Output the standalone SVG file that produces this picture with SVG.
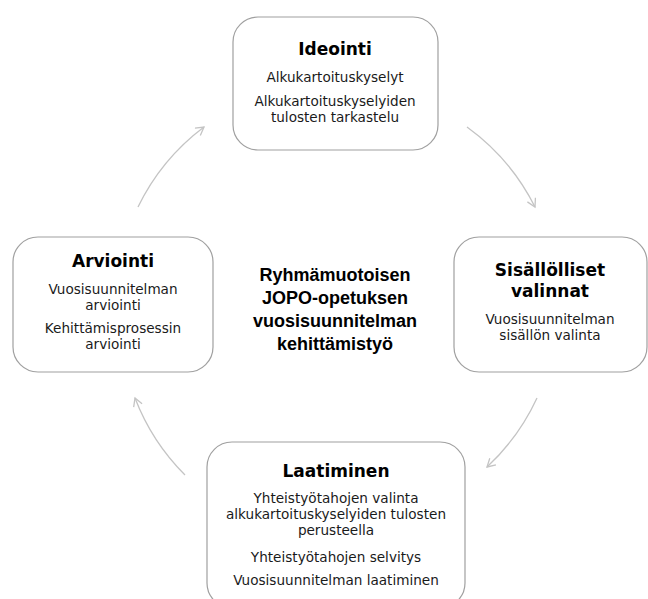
<svg xmlns="http://www.w3.org/2000/svg" width="648" height="599" viewBox="0 0 648 599">
<style>
.box{fill:#ffffff;stroke:#a0a0a0;stroke-width:1.2}
.title{font-family:"DejaVu Sans",Verdana,sans-serif;font-weight:bold;font-size:17px;fill:#000;text-anchor:middle}
.body{font-family:"DejaVu Sans",Verdana,sans-serif;font-size:13.6px;fill:#1a1a1a;text-anchor:middle}
.center{font-family:"Liberation Sans",Arial,sans-serif;font-weight:bold;font-size:18px;fill:#000;text-anchor:middle}
.arc{fill:none;stroke:#c4c4c4;stroke-width:1.3}
</style>
<defs>
<marker id="ah" markerWidth="12" markerHeight="12" refX="9" refY="5" orient="auto" markerUnits="userSpaceOnUse">
<path d="M1,0.5 L9,5 L1,9.5" fill="none" stroke="#c4c4c4" stroke-width="1.3"/>
</marker>
</defs>
<rect width="648" height="599" fill="#ffffff"/>
<g id="connectors">
<path class="arc" d="M467,127 A221,221 0 0 1 535,207" marker-end="url(#ah)"/>
<path class="arc" d="M537,398 A221,221 0 0 1 487,467" marker-end="url(#ah)"/>
<path class="arc" d="M185,475 A221,221 0 0 1 135,398" marker-end="url(#ah)"/>
<path class="arc" d="M138,207 A221,221 0 0 1 204,127" marker-end="url(#ah)"/>
</g>
<g id="ideointi">
<rect class="box" x="233" y="17" width="205" height="133" rx="25"/>
<text class="title" x="335" y="55">Ideointi</text>
<text class="body" x="335" y="82">Alkukartoituskyselyt</text>
<text class="body" x="335" y="106">Alkukartoituskyselyiden</text>
<text class="body" x="335" y="122">tulosten tarkastelu</text>
</g>
<g id="sisallolliset">
<rect class="box" x="454" y="237" width="193" height="135" rx="25"/>
<text class="title" x="550" y="276">Sisällölliset</text>
<text class="title" x="550" y="297">valinnat</text>
<text class="body" x="550" y="324">Vuosisuunnitelman</text>
<text class="body" x="550" y="340">sisällön valinta</text>
</g>
<g id="laatiminen">
<rect class="box" x="207" y="442" width="258" height="166" rx="25"/>
<text class="title" x="336" y="477">Laatiminen</text>
<text class="body" x="336" y="503">Yhteistyötahojen valinta</text>
<text class="body" x="336" y="519">alkukartoituskyselyiden tulosten</text>
<text class="body" x="336" y="535">perusteella</text>
<text class="body" x="336" y="562">Yhteistyötahojen selvitys</text>
<text class="body" x="336" y="585">Vuosisuunnitelman laatiminen</text>
</g>
<g id="arviointi">
<rect class="box" x="13" y="237" width="200" height="135" rx="25"/>
<text class="title" x="113" y="267">Arviointi</text>
<text class="body" x="113" y="294">Vuosisuunnitelman</text>
<text class="body" x="113" y="310">arviointi</text>
<text class="body" x="113" y="333">Kehittämisprosessin</text>
<text class="body" x="113" y="349">arviointi</text>
</g>
<g id="center">
<text class="center" x="335" y="281">Ryhmämuotoisen</text>
<text class="center" x="335" y="304">JOPO-opetuksen</text>
<text class="center" x="335" y="327">vuosisuunnitelman</text>
<text class="center" x="335" y="350">kehittämistyö</text>
</g>
</svg>
